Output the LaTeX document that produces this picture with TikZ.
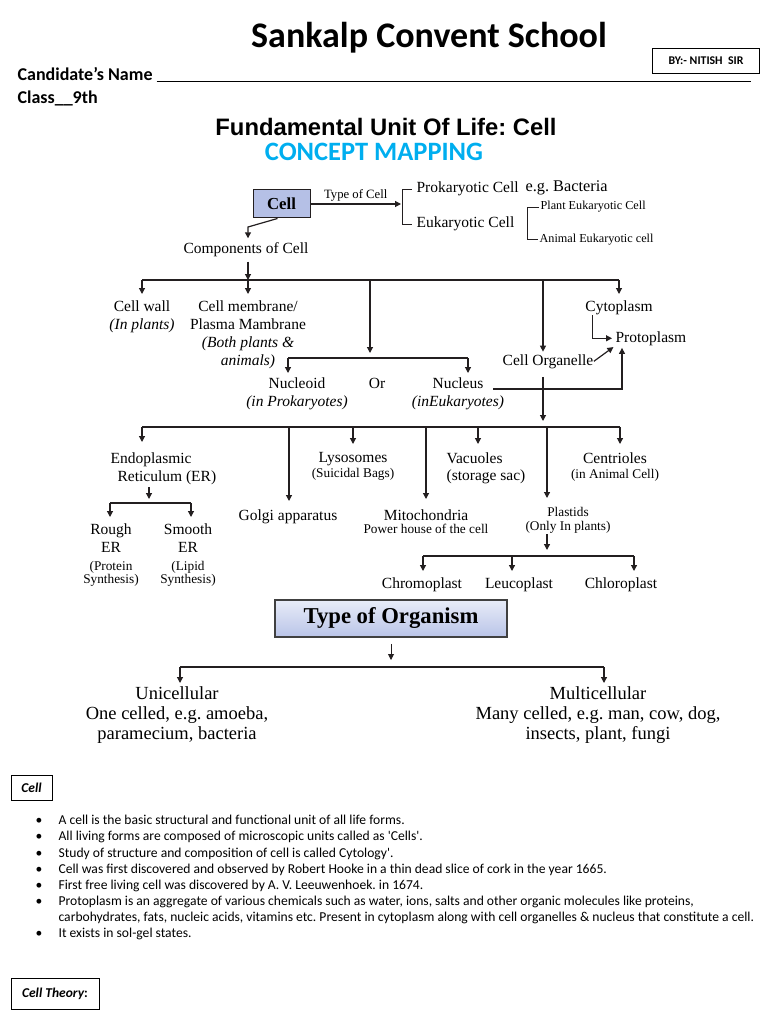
\documentclass[tikz,border=0pt]{standalone}
\usepackage{fontspec}
\setmainfont{Liberation Serif}
\newfontfamily\calibri{Carlito}
\newfontfamily\arialfont{Liberation Sans}
\usetikzlibrary{arrows.meta,positioning}
\definecolor{conceptblue}{HTML}{00AEEF}
\definecolor{cellfill}{HTML}{B5C0E6}
\definecolor{orgtop}{HTML}{E8ECF8}
\definecolor{orgbottom}{HTML}{B9C4E8}
\definecolor{inkline}{HTML}{231F20}
\newcommand{\mapfont}{\fontsize{15.5}{18}\selectfont}
\newcommand{\mapsmall}{\fontsize{13.3}{15}\selectfont}
\newcommand{\maptiny}{\fontsize{12.2}{14}\selectfont}
\newcommand{\mapbig}{\fontsize{18.5}{20}\selectfont}
\frenchspacing

\begin{document}
\begin{tikzpicture}
[x=1pt, y=-1pt, >={Triangle[length=6pt,width=6pt]},
line width=1.2pt,
every node/.style={inner sep=0pt},
txt/.style={font=\mapfont, align=center},
hdr/.style={font=\calibri\bfseries\fontsize{18}{21}\selectfont, anchor=base west},
tag/.style={draw, line width=0.9pt, font=\calibri\bfseries\itshape\fontsize{13.5}{16}\selectfont},
arr/.style={->, draw=inkline},
bar/.style={draw=inkline},
brace/.style={draw=inkline, line width=0.9pt}
]
  \useasboundingbox (0,0) rectangle (768,1024);

  \node[anchor=base] (school) at (429,48) {\calibri\bfseries\fontsize{36}{42}\selectfont Sankalp Convent School};
  \node[draw, line width=0.9pt, minimum width=107pt, minimum height=25pt] (author) at (706,60.5) {\calibri\bfseries\fontsize{11.8}{13}\selectfont BY:-~NITISH~~SIR};
  \node[hdr] (candidate) at (17,81) {Candidate’s Name \rule[-1.5pt]{594pt}{1.3pt}};
  \node[hdr] (class) at (17,104) {Class\_\_9th};
  \node (unit) at (386,127) {\arialfont\bfseries\fontsize{23.8}{27}\selectfont Fundamental Unit Of Life: Cell};
  \node[text=conceptblue] (mapping) at (374,152) {\calibri\bfseries\fontsize{26.5}{31}\selectfont CONCEPT MAPPING};

  \node[draw=inkline, line width=1pt, fill=cellfill, minimum width=57pt, minimum height=28pt, font=\bfseries\fontsize{16.8}{19}\selectfont] (cell) at (281.5,204) {Cell};
  \node[anchor=base west, font=\mapfont] (prok) at (416,193) {Prokaryotic Cell};
  \node[anchor=base west, font=\fontsize{16.3}{19}\selectfont] (bact) at (525,192) {e.g. Bacteria};
  \node[anchor=base west, font=\mapfont] (euk) at (416,228) {Eukaryotic Cell};
  \node[anchor=base west, font=\maptiny] (plant) at (540,210) {Plant Eukaryotic Cell};
  \node[anchor=base west, font=\maptiny] (animal) at (539,242) {Animal Eukaryotic cell};
  \node[font=\mapfont] (comp) at (246,250) {Components of Cell};
  \coordinate (typetip) at (401,204);
  \coordinate (kink) at (248,227);
  \coordinate (compbar) at (248,280);

  \node[txt, anchor=north] (wall) at (142,300) {Cell wall\\\textit{(In plants)}};
  \node[txt, anchor=north] (membrane) at (248,300) {Cell membrane/\\Plasma Mambrane\\\textit{(Both plants \&}\\\textit{animals)}};
  \node[txt, anchor=north] (cyto) at (619,300) {Cytoplasm};
  \node[anchor=base west, font=\mapfont] (proto) at (615,342) {Protoplasm};
  \node[anchor=base, font=\mapfont] (organelle) at (548,365) {Cell Organelle};
  \node[txt, anchor=north] (nucleoid) at (297,377) {Nucleoid\\\textit{(in Prokaryotes)}};
  \node[font=\mapfont] (or) at (377,383) {Or};
  \node[txt, anchor=north] (nucleus) at (458,377) {Nucleus\\\textit{(inEukaryotes)}};
  \coordinate (nucsplit) at (370,358);
  \coordinate (nucleoidbar) at (288,358);
  \coordinate (nucleusbar) at (468,358);
  \coordinate (nucout) at (493,389);
  \coordinate (b1org) at (543,280);

  \coordinate (b3org) at (543,427);
  \coordinate (b3er) at (142,427);
  \coordinate (b3golgi) at (289,427);
  \coordinate (b3lyso) at (353,427);
  \coordinate (b3mito) at (426,427);
  \coordinate (b3vacu) at (478,427);
  \coordinate (b3plast) at (547,427);
  \coordinate (b3centri) at (620,427);
  \node[font=\mapfont, align=left, anchor=north west] (er) at (110,452) {Endoplasmic\\\hspace*{7pt}Reticulum (ER)};
  \node[txt, anchor=north] (golgi) at (288,509) {Golgi apparatus};
  \node[txt, anchor=north] (lyso) at (353,452) {Lysosomes\\[-3pt]{\mapsmall(Suicidal Bags)}};
  \node[txt, anchor=north] (mito) at (426,509) {Mitochondria\\[-5pt]{\mapsmall Power house of the cell}};
  \node[font=\mapfont, align=left, anchor=north west] (vacu) at (446,452) {Vacuoles\\[-1pt](storage sac)};
  \node[font=\mapsmall, align=center, anchor=north] (plastids) at (568,507) {Plastids\\[-1pt](Only In plants)};
  \node[txt, anchor=north] (centri) at (615,452) {Centrioles\\[-3pt]{\mapsmall(in Animal Cell)}};

  \coordinate (erbar) at (149,503);
  \coordinate (roughbar) at (110,503);
  \coordinate (smoothbar) at (191,503);
  \node[txt, anchor=north] (rough) at (111,523) {Rough\\ER\\{\mapsmall(Protein}\\[-5pt]{\mapsmall Synthesis)}};
  \node[txt, anchor=north] (smooth) at (188,523) {Smooth\\ER\\{\mapsmall(Lipid}\\[-5pt]{\mapsmall Synthesis)}};

  \coordinate (plastbar) at (547,556);
  \coordinate (chromobar) at (423,556);
  \coordinate (leucobar) at (512,556);
  \coordinate (chlorobar) at (634,556);
  \node[txt, anchor=north] (chromo) at (422,577) {Chromoplast};
  \node[txt, anchor=north] (leuco) at (519,577) {Leucoplast};
  \node[txt, anchor=north] (chloro) at (621,577) {Chloroplast};

  \node[draw=darkgray, line width=1.6pt, top color=orgtop, bottom color=orgbottom, minimum width=232pt, minimum height=37pt, font=\bfseries\fontsize{22.7}{26}\selectfont] (organism) at (391,618.5) {Type of Organism};
  \coordinate (orgbar) at (391,667);
  \coordinate (unibar) at (180,667);
  \coordinate (multibar) at (604,667);
  \node[font=\mapbig, align=center, anchor=north] (uni) at (177,686) {Unicellular\\One celled, e.g. amoeba,\\paramecium, bacteria};
  \node[font=\mapbig, align=center, anchor=north] (multi) at (598,686) {Multicellular\\Many celled, e.g. man, cow, dog,\\insects, plant, fungi};

  \node[tag, minimum width=41pt, minimum height=25pt] (cellhead) at (31.5,787.5) {Cell};
  \node[anchor=north west, font=\calibri\fontsize{13.6}{16.1}\selectfont] (facts) at (35,813) {%
    \begin{tabular}{@{}p{23pt}@{}l@{}}
    \textbullet & A cell is the basic structural and functional unit of all life forms.\\
    \textbullet & All living forms are composed of microscopic units called as 'Cells'.\\
    \textbullet & Study of structure and composition of cell is called Cytology'.\\
    \textbullet & Cell was first discovered and observed by Robert Hooke in a thin dead slice of cork in the year 1665.\\
    \textbullet & First free living cell was discovered by A. V. Leeuwenhoek. in 1674.\\
    \textbullet & Protoplasm is an aggregate of various chemicals such as water, ions, salts and other organic molecules like proteins,\\
    & carbohydrates, fats, nucleic acids, vitamins etc. Present in cytoplasm along with cell organelles \& nucleus that constitute a cell.\\
    \textbullet & It exists in sol-gel states.
    \end{tabular}};
  \node[tag, minimum width=88pt, minimum height=31pt] (theory) at (55,993.5) {Cell Theory{\upshape:}};

  \draw[arr] (cell) -- (typetip) node[midway, above=2pt, font=\fontsize{12.7}{14}\selectfont] (typelabel) {Type of Cell};
  \draw[brace] ([xshift=-4pt]prok.west) -- ++(-10,0) |- ([xshift=-4pt]euk.west);
  \draw[brace] ([xshift=-1pt]plant.west) -- ++(-12,0) |- ([xshift=-1pt]animal.west);
  \draw[arr, shorten >=4pt] ([xshift=-4pt]cell.south) -- (kink) -- (kink |- comp.north);
  \draw[arr, shorten <=4pt] (comp.south -| compbar) -- (compbar);

  \draw[bar] (wall.north |- compbar) -- (cyto.north |- compbar);
  \draw[arr, shorten >=6pt] (wall.north |- compbar) -- (wall.north);
  \draw[arr, shorten >=6pt] (membrane.north |- compbar) -- (membrane.north);
  \draw[arr, shorten >=5pt] (nucsplit |- compbar) -- (nucsplit);
  \draw[arr, shorten >=2pt] (b1org) -- (b1org |- organelle.north);
  \draw[arr, shorten >=6pt] (cyto.north |- compbar) -- (cyto.north);

  \draw[bar] (nucleoidbar) -- (nucleusbar);
  \draw[arr, shorten >=4pt] (nucleoidbar) -- (nucleoidbar |- nucleoid.north);
  \draw[arr, shorten >=4pt] (nucleusbar) -- (nucleusbar |- nucleus.north);
  \draw[arr, shorten >=2pt] (nucout) -| ([xshift=7pt]proto.south west);
  \draw[arr, shorten >=3pt] ([xshift=8pt]cyto.south west) |- (proto.west);
  \draw[arr, shorten >=2pt] (organelle.east) -- (proto.south west);
  \draw[arr, shorten <=8pt, shorten >=6pt] (b3org |- organelle.south) -- (b3org);

  \draw[bar] (b3er) -- (b3centri);
  \draw[arr, shorten >=10pt] (b3er) -- (b3er |- er.north);
  \draw[arr, shorten >=8pt] (b3golgi) -- (b3golgi |- golgi.north);
  \draw[arr, shorten >=8pt] (b3lyso) -- (b3lyso |- lyso.north);
  \draw[arr, shorten >=10pt] (b3mito) -- (b3mito |- mito.north);
  \draw[arr, shorten >=8pt] (b3vacu) -- (b3vacu |- vacu.north);
  \draw[arr, shorten >=9pt] (b3plast) -- (b3plast |- plastids.north);
  \draw[arr, shorten >=8pt] (b3centri) -- (b3centri |- centri.north);

  \draw[arr, shorten <=2pt, shorten >=4pt] (erbar |- er.south) -- (erbar);
  \draw[bar] (roughbar) -- (smoothbar);
  \draw[arr, shorten >=6pt] (roughbar) -- (roughbar |- rough.north);
  \draw[arr, shorten >=6pt] (smoothbar) -- (smoothbar |- smooth.north);

  \draw[arr, shorten >=6pt] (plastbar |- plastids.south) -- (plastbar);
  \draw[bar] (chromobar) -- (chlorobar);
  \draw[arr, shorten >=6pt] (chromobar) -- (chromobar |- chromo.north);
  \draw[arr, shorten >=6pt] (leucobar) -- (leucobar |- leuco.north);
  \draw[arr, shorten >=6pt] (chlorobar) -- (chlorobar |- chloro.north);

  \draw[arr, line width=0.9pt, shorten <=6pt, shorten >=7pt] (organism.south) -- (orgbar);
  \draw[bar] (unibar) -- (multibar);
  \draw[arr, shorten >=3pt] (unibar) -- (unibar |- uni.north);
  \draw[arr, shorten >=3pt] (multibar) -- (multibar |- multi.north);
\end{tikzpicture}
\end{document}
